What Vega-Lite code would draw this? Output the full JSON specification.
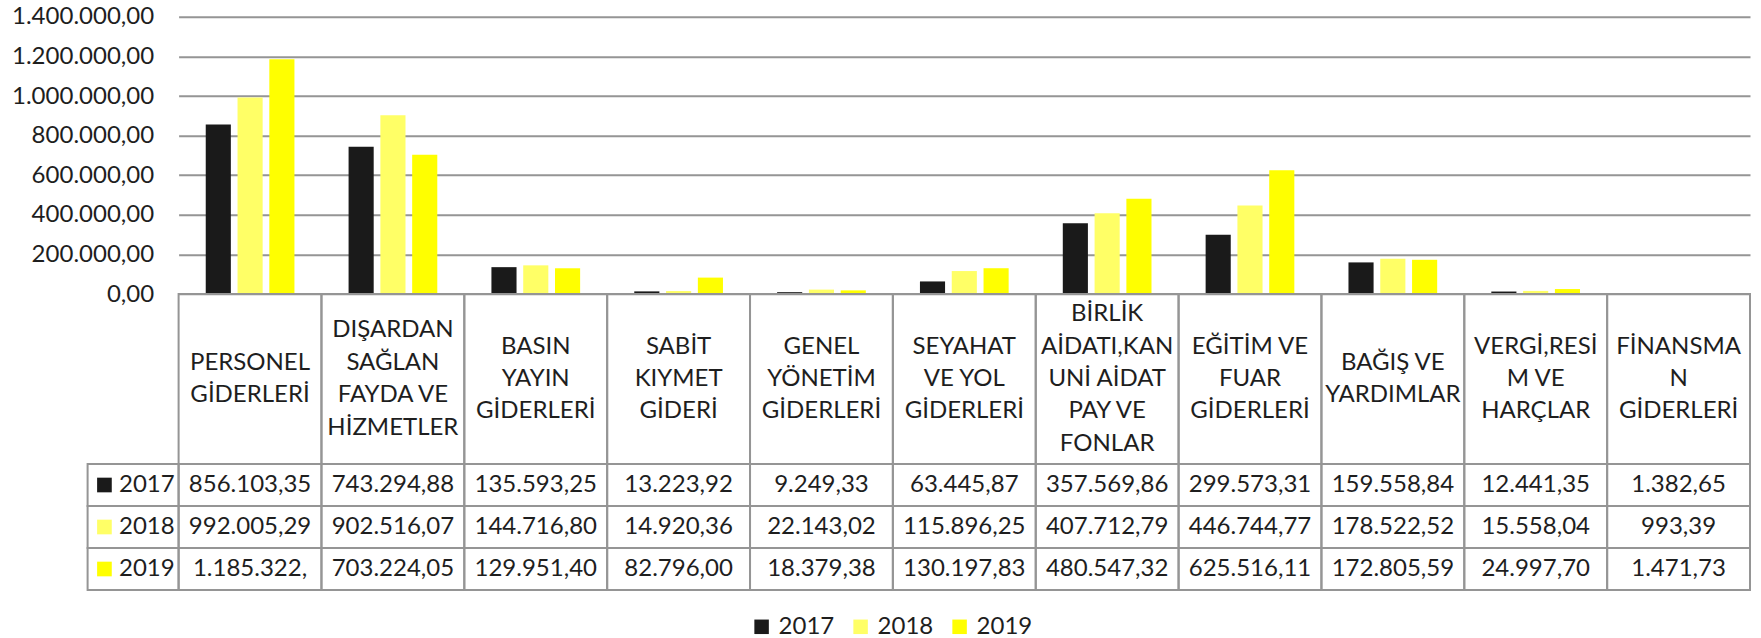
{
  "$schema": "https://vega.github.io/schema/vega-lite/v6.json",
  "width": 1662.4,
  "height": 573.2,
  "autosize": "none",
  "padding": {"left": 87.6, "top": 16.8, "right": 11, "bottom": 48},
  "config": {
    "font": "Lato",
    "view": {"stroke": null},
    "locale": {"number": {"decimal": ",", "thousands": ".", "grouping": [3], "currency": ["", " TL"]}}
  },
  "data": {
    "values": [
      {"cat": "PERSONEL\nGİDERLERİ", "year": 2017, "value": 856103.35},
      {"cat": "PERSONEL\nGİDERLERİ", "year": 2018, "value": 992005.29},
      {"cat": "PERSONEL\nGİDERLERİ", "year": 2019, "value": 1185322.0},
      {"cat": "DIŞARDAN\nSAĞLAN\nFAYDA VE\nHİZMETLER", "year": 2017, "value": 743294.88},
      {"cat": "DIŞARDAN\nSAĞLAN\nFAYDA VE\nHİZMETLER", "year": 2018, "value": 902516.07},
      {"cat": "DIŞARDAN\nSAĞLAN\nFAYDA VE\nHİZMETLER", "year": 2019, "value": 703224.05},
      {"cat": "BASIN\nYAYIN\nGİDERLERİ", "year": 2017, "value": 135593.25},
      {"cat": "BASIN\nYAYIN\nGİDERLERİ", "year": 2018, "value": 144716.80},
      {"cat": "BASIN\nYAYIN\nGİDERLERİ", "year": 2019, "value": 129951.40},
      {"cat": "SABİT\nKIYMET\nGİDERİ", "year": 2017, "value": 13223.92},
      {"cat": "SABİT\nKIYMET\nGİDERİ", "year": 2018, "value": 14920.36},
      {"cat": "SABİT\nKIYMET\nGİDERİ", "year": 2019, "value": 82796.00},
      {"cat": "GENEL\nYÖNETİM\nGİDERLERİ", "year": 2017, "value": 9249.33},
      {"cat": "GENEL\nYÖNETİM\nGİDERLERİ", "year": 2018, "value": 22143.02},
      {"cat": "GENEL\nYÖNETİM\nGİDERLERİ", "year": 2019, "value": 18379.38},
      {"cat": "SEYAHAT\nVE YOL\nGİDERLERİ", "year": 2017, "value": 63445.87},
      {"cat": "SEYAHAT\nVE YOL\nGİDERLERİ", "year": 2018, "value": 115896.25},
      {"cat": "SEYAHAT\nVE YOL\nGİDERLERİ", "year": 2019, "value": 130197.83},
      {"cat": "BİRLİK\nAİDATI,KAN\nUNİ AİDAT\nPAY VE\nFONLAR", "year": 2017, "value": 357569.86},
      {"cat": "BİRLİK\nAİDATI,KAN\nUNİ AİDAT\nPAY VE\nFONLAR", "year": 2018, "value": 407712.79},
      {"cat": "BİRLİK\nAİDATI,KAN\nUNİ AİDAT\nPAY VE\nFONLAR", "year": 2019, "value": 480547.32},
      {"cat": "EĞİTİM VE\nFUAR\nGİDERLERİ", "year": 2017, "value": 299573.31},
      {"cat": "EĞİTİM VE\nFUAR\nGİDERLERİ", "year": 2018, "value": 446744.77},
      {"cat": "EĞİTİM VE\nFUAR\nGİDERLERİ", "year": 2019, "value": 625516.11},
      {"cat": "BAĞIŞ VE\nYARDIMLAR", "year": 2017, "value": 159558.84},
      {"cat": "BAĞIŞ VE\nYARDIMLAR", "year": 2018, "value": 178522.52},
      {"cat": "BAĞIŞ VE\nYARDIMLAR", "year": 2019, "value": 172805.59},
      {"cat": "VERGİ,RESİ\nM VE\nHARÇLAR", "year": 2017, "value": 12441.35},
      {"cat": "VERGİ,RESİ\nM VE\nHARÇLAR", "year": 2018, "value": 15558.04},
      {"cat": "VERGİ,RESİ\nM VE\nHARÇLAR", "year": 2019, "value": 24997.70},
      {"cat": "FİNANSMA\nN\nGİDERLERİ", "year": 2017, "value": 1382.65},
      {"cat": "FİNANSMA\nN\nGİDERLERİ", "year": 2018, "value": 993.39},
      {"cat": "FİNANSMA\nN\nGİDERLERİ", "year": 2019, "value": 1471.73}
    ]
  },
  "resolve": {"scale": {"x": "independent", "y": "independent"}},
  "layer": [
    {
      "mark": {"type": "bar"},
      "encoding": {
        "x": {"field": "cat", "type": "nominal", "sort": null, "axis": null,
              "scale": {"range": [91, 1662.4], "paddingInner": 0.379, "paddingOuter": 0.19}},
        "xOffset": {"field": "year", "type": "nominal", "scale": {"paddingInner": 0.21, "paddingOuter": 0}},
        "y": {"field": "value", "type": "quantitative",
              "scale": {"domain": [0, 1400000], "range": [277.2, 0], "nice": false},
              "axis": {"values": [0, 200000, 400000, 600000, 800000, 1000000, 1200000, 1400000],
                       "format": ",.2f", "title": null, "domain": false, "ticks": false,
                       "labelFont": "Lato", "labelFontSize": 24, "labelColor": "#1e1e1e",
                       "labelPadding": 0, "offset": -66,
                       "grid": true, "gridColor": "#959595", "gridWidth": 2}},
        "color": {"field": "year", "type": "nominal",
                  "scale": {"domain": [2017, 2018, 2019], "range": ["#1a1a1a", "#ffff66", "#ffff00"]},
                  "legend": {"orient": "none", "legendX": 662, "legendY": 598, "direction": "horizontal",
                             "title": null, "symbolType": "square", "symbolSize": 210,
                             "symbolStrokeWidth": 0, "symbolOpacity": 1,
                             "labelFont": "Lato", "labelFontSize": 24, "labelColor": "#1e1e1e",
                             "labelOffset": 5, "columnPadding": 14}}
      }
    },
    {
      "transform": [{"filter": "datum.year == 2017"}],
      "mark": {"type": "rect", "fill": "transparent", "stroke": "#959595", "strokeWidth": 2},
      "encoding": {
        "x": {"field": "cat", "type": "nominal", "sort": null, "axis": null,
              "scale": {"type": "band", "range": [91, 1662.4], "padding": 0}},
        "y": {"datum": "header", "type": "nominal", "axis": null,
              "scale": {"type": "band", "range": [277.2, 447.2], "padding": 0}}
      }
    },
    {
      "transform": [{"filter": "datum.year == 2017 && split(datum.cat, '\\n').length == 2"}],
      "mark": {"type": "text", "lineBreak": "\n", "fontSize": 24, "lineHeight": 32.4, "dy": -16.2,
               "align": "center", "baseline": "middle", "color": "#1e1e1e", "font": "Lato"},
      "encoding": {
        "x": {"field": "cat", "type": "nominal", "axis": null,
              "scale": {"type": "band", "range": [91, 1662.4], "padding": 0,
                        "domain": ["PERSONEL\nGİDERLERİ", "DIŞARDAN\nSAĞLAN\nFAYDA VE\nHİZMETLER", "BASIN\nYAYIN\nGİDERLERİ", "SABİT\nKIYMET\nGİDERİ", "GENEL\nYÖNETİM\nGİDERLERİ", "SEYAHAT\nVE YOL\nGİDERLERİ", "BİRLİK\nAİDATI,KAN\nUNİ AİDAT\nPAY VE\nFONLAR", "EĞİTİM VE\nFUAR\nGİDERLERİ", "BAĞIŞ VE\nYARDIMLAR", "VERGİ,RESİ\nM VE\nHARÇLAR", "FİNANSMA\nN\nGİDERLERİ"]}},
        "y": {"datum": "header", "type": "nominal", "axis": null,
              "scale": {"type": "band", "range": [277.2, 447.2], "padding": 0}},
        "text": {"field": "cat"}
      }
    },
    {
      "transform": [{"filter": "datum.year == 2017 && split(datum.cat, '\\n').length == 3"}],
      "mark": {"type": "text", "lineBreak": "\n", "fontSize": 24, "lineHeight": 32.4, "dy": -32.4,
               "align": "center", "baseline": "middle", "color": "#1e1e1e", "font": "Lato"},
      "encoding": {
        "x": {"field": "cat", "type": "nominal", "axis": null,
              "scale": {"type": "band", "range": [91, 1662.4], "padding": 0,
                        "domain": ["PERSONEL\nGİDERLERİ", "DIŞARDAN\nSAĞLAN\nFAYDA VE\nHİZMETLER", "BASIN\nYAYIN\nGİDERLERİ", "SABİT\nKIYMET\nGİDERİ", "GENEL\nYÖNETİM\nGİDERLERİ", "SEYAHAT\nVE YOL\nGİDERLERİ", "BİRLİK\nAİDATI,KAN\nUNİ AİDAT\nPAY VE\nFONLAR", "EĞİTİM VE\nFUAR\nGİDERLERİ", "BAĞIŞ VE\nYARDIMLAR", "VERGİ,RESİ\nM VE\nHARÇLAR", "FİNANSMA\nN\nGİDERLERİ"]}},
        "y": {"datum": "header", "type": "nominal", "axis": null,
              "scale": {"type": "band", "range": [277.2, 447.2], "padding": 0}},
        "text": {"field": "cat"}
      }
    },
    {
      "transform": [{"filter": "datum.year == 2017 && split(datum.cat, '\\n').length == 4"}],
      "mark": {"type": "text", "lineBreak": "\n", "fontSize": 24, "lineHeight": 32.4, "dy": -48.6,
               "align": "center", "baseline": "middle", "color": "#1e1e1e", "font": "Lato"},
      "encoding": {
        "x": {"field": "cat", "type": "nominal", "axis": null,
              "scale": {"type": "band", "range": [91, 1662.4], "padding": 0,
                        "domain": ["PERSONEL\nGİDERLERİ", "DIŞARDAN\nSAĞLAN\nFAYDA VE\nHİZMETLER", "BASIN\nYAYIN\nGİDERLERİ", "SABİT\nKIYMET\nGİDERİ", "GENEL\nYÖNETİM\nGİDERLERİ", "SEYAHAT\nVE YOL\nGİDERLERİ", "BİRLİK\nAİDATI,KAN\nUNİ AİDAT\nPAY VE\nFONLAR", "EĞİTİM VE\nFUAR\nGİDERLERİ", "BAĞIŞ VE\nYARDIMLAR", "VERGİ,RESİ\nM VE\nHARÇLAR", "FİNANSMA\nN\nGİDERLERİ"]}},
        "y": {"datum": "header", "type": "nominal", "axis": null,
              "scale": {"type": "band", "range": [277.2, 447.2], "padding": 0}},
        "text": {"field": "cat"}
      }
    },
    {
      "transform": [{"filter": "datum.year == 2017 && split(datum.cat, '\\n').length == 5"}],
      "mark": {"type": "text", "lineBreak": "\n", "fontSize": 24, "lineHeight": 32.4, "dy": -64.8,
               "align": "center", "baseline": "middle", "color": "#1e1e1e", "font": "Lato"},
      "encoding": {
        "x": {"field": "cat", "type": "nominal", "axis": null,
              "scale": {"type": "band", "range": [91, 1662.4], "padding": 0,
                        "domain": ["PERSONEL\nGİDERLERİ", "DIŞARDAN\nSAĞLAN\nFAYDA VE\nHİZMETLER", "BASIN\nYAYIN\nGİDERLERİ", "SABİT\nKIYMET\nGİDERİ", "GENEL\nYÖNETİM\nGİDERLERİ", "SEYAHAT\nVE YOL\nGİDERLERİ", "BİRLİK\nAİDATI,KAN\nUNİ AİDAT\nPAY VE\nFONLAR", "EĞİTİM VE\nFUAR\nGİDERLERİ", "BAĞIŞ VE\nYARDIMLAR", "VERGİ,RESİ\nM VE\nHARÇLAR", "FİNANSMA\nN\nGİDERLERİ"]}},
        "y": {"datum": "header", "type": "nominal", "axis": null,
              "scale": {"type": "band", "range": [277.2, 447.2], "padding": 0}},
        "text": {"field": "cat"}
      }
    },
    {
      "mark": {"type": "rect", "fill": "transparent", "stroke": "#959595", "strokeWidth": 2},
      "encoding": {
        "x": {"field": "cat", "type": "nominal", "sort": null, "axis": null,
              "scale": {"type": "band", "range": [91, 1662.4], "padding": 0}},
        "y": {"field": "year", "type": "nominal", "axis": null,
              "scale": {"type": "band", "range": [447.2, 573.2], "padding": 0}}
      }
    },
    {
      "mark": {"type": "text", "fontSize": 24, "align": "center", "baseline": "middle",
               "color": "#1e1e1e", "font": "Lato", "limit": 126, "ellipsis": "\u200b"},
      "encoding": {
        "x": {"field": "cat", "type": "nominal", "sort": null, "axis": null,
              "scale": {"type": "band", "range": [91, 1662.4], "padding": 0}},
        "y": {"field": "year", "type": "nominal", "axis": null,
              "scale": {"type": "band", "range": [447.2, 573.2], "padding": 0}},
        "text": {"field": "value", "type": "quantitative", "format": ",.2f"}
      }
    },
    {
      "transform": [{"aggregate": [{"op": "count", "as": "n"}], "groupby": ["year"]}],
      "mark": {"type": "rect", "fill": "transparent", "stroke": "#959595", "strokeWidth": 2},
      "encoding": {
        "x": {"datum": "yr", "type": "nominal", "axis": null,
              "scale": {"type": "band", "range": [0, 91], "padding": 0}},
        "y": {"field": "year", "type": "nominal", "axis": null,
              "scale": {"type": "band", "range": [447.2, 573.2], "padding": 0}}
      }
    },
    {
      "transform": [{"aggregate": [{"op": "count", "as": "n"}], "groupby": ["year"]}],
      "mark": {"type": "point", "shape": "square", "filled": true, "size": 215, "opacity": 1, "strokeWidth": 0},
      "encoding": {
        "x": {"datum": "yr", "type": "nominal", "axis": null, "bandPosition": 0.185,
              "scale": {"type": "band", "range": [0, 91], "padding": 0}},
        "y": {"field": "year", "type": "nominal", "axis": null,
              "scale": {"type": "band", "range": [447.2, 573.2], "padding": 0}},
        "color": {"field": "year", "type": "nominal", "legend": null}
      }
    },
    {
      "transform": [{"aggregate": [{"op": "count", "as": "n"}], "groupby": ["year"]}],
      "mark": {"type": "text", "fontSize": 24, "align": "left", "baseline": "middle",
               "color": "#1e1e1e", "font": "Lato"},
      "encoding": {
        "x": {"datum": "yr", "type": "nominal", "axis": null, "bandPosition": 0.345,
              "scale": {"type": "band", "range": [0, 91], "padding": 0}},
        "y": {"field": "year", "type": "nominal", "axis": null,
              "scale": {"type": "band", "range": [447.2, 573.2], "padding": 0}},
        "text": {"field": "year", "type": "nominal"}
      }
    }
  ]
}
